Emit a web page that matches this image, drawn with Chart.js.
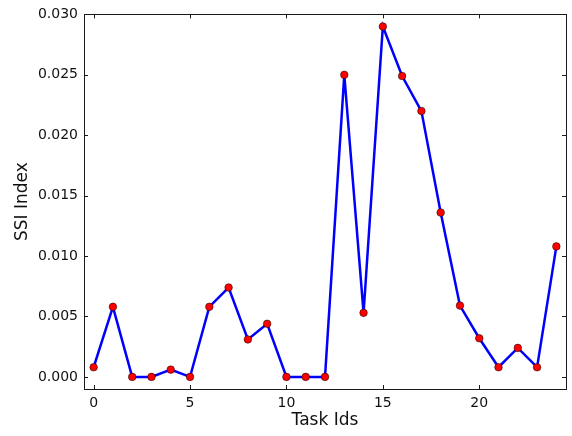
<!DOCTYPE html>
<html>
<head>
<meta charset="utf-8">
<script src="https://cdn.jsdelivr.net/npm/chart.js@4.4.1/dist/chart.umd.min.js"></script>
<style>
  body { margin: 0; background: #fff; }
  #wrap { width: 572px; height: 436px; }
</style>
</head>
<body>
<div id="wrap"><canvas id="chart" width="572" height="436"></canvas></div>
<script>
// data
const taskIds = [0, 1, 2, 3, 4, 5, 6, 7, 8, 9, 10, 11, 12, 13, 14, 15, 16, 17, 18, 19, 20, 21, 22, 23, 24]
const ssiIndex = [0.0008, 0.0058, 0.0, 0.0, 0.0006, 0.0, 0.0058, 0.0074, 0.0031, 0.0044,
                  0.0, 0.0, 0.0, 0.0250, 0.0053, 0.0290, 0.0249, 0.0220, 0.0136, 0.0059,
                  0.0032, 0.0008, 0.0024, 0.0008, 0.0108]
const xTicks = [0, 5, 10, 15, 20]
const yTicks = [0, 0.005, 0.010, 0.015, 0.020, 0.025, 0.030]

const fontFamily = "'DejaVu Sans', sans-serif"

// matplotlib style frame with ticks pointing inwards on all four sides
const framePlugin = {
    id: 'frame',
    afterDraw(chart) {
        const ctx = chart.ctx
        const a = chart.chartArea
        const xs = chart.scales.x
        const ys = chart.scales.y
        const len = 4
        ctx.save()
        ctx.strokeStyle = '#1a1a1a'
        ctx.lineWidth = 1
        ctx.beginPath()
        xTicks.forEach(v => {
            let px = Math.round(xs.getPixelForValue(v)) + 0.5
            ctx.moveTo(px, a.bottom); ctx.lineTo(px, a.bottom - len)
            ctx.moveTo(px, a.top); ctx.lineTo(px, a.top + len)
        })
        yTicks.forEach(v => {
            let py = Math.round(ys.getPixelForValue(v)) + 0.5
            ctx.moveTo(a.left, py); ctx.lineTo(a.left + len, py)
            ctx.moveTo(a.right, py); ctx.lineTo(a.right - len, py)
        })
        ctx.stroke()
        ctx.strokeRect(Math.round(a.left) + 0.5, Math.round(a.top) + 0.5,
                       Math.round(a.right - a.left), Math.round(a.bottom - a.top))
        ctx.restore()
    }
}

new Chart(document.getElementById('chart'), {
    type: 'line',
    data: {
        datasets: [{
            data: taskIds.map((id, i) => ({ x: id, y: ssiIndex[i] })),
            borderColor: '#0000ff',
            borderWidth: 2.5,
            pointBackgroundColor: '#ff0000',
            pointBorderColor: '#000',
            pointBorderWidth: 0.5,
            pointRadius: 3.8,
            tension: 0,
            clip: false
        }]
    },
    options: {
        responsive: false,
        animation: false,
        layout: { padding: { top: 13, right: 6, left: 0, bottom: 0 } },
        plugins: { legend: { display: false }, tooltip: { enabled: false } },
        scales: {
            x: {
                type: 'linear',
                min: -0.5,
                max: 24.5,
                afterBuildTicks: s => { s.ticks = xTicks.map(v => ({ value: v })) },
                afterFit: s => { s.height = 47 },
                grid: { display: false, drawTicks: false },
                border: { display: false },
                ticks: {
                    padding: 6,
                    color: '#111',
                    font: { family: fontFamily, size: 14 },
                    maxRotation: 0
                },
                title: {
                    display: true,
                    text: 'Task Ids',
                    color: '#111',
                    font: { family: fontFamily, size: 17 },
                    padding: { top: 0, bottom: 5.4 }
                }
            },
            y: {
                min: -0.001,
                max: 0.030,
                afterBuildTicks: s => { s.ticks = yTicks.map(v => ({ value: v })) },
                afterFit: s => { s.width = 84 },
                grid: { display: false, drawTicks: false },
                border: { display: false },
                ticks: {
                    padding: 6,
                    color: '#111',
                    font: { family: fontFamily, size: 14 },
                    callback: v => v.toFixed(3)
                },
                title: {
                    display: true,
                    text: 'SSI Index',
                    color: '#111',
                    font: { family: fontFamily, size: 17 },
                    padding: { top: 12.4, bottom: 0 }
                }
            }
        }
    },
    plugins: [framePlugin]
})
</script>
</body>
</html>
